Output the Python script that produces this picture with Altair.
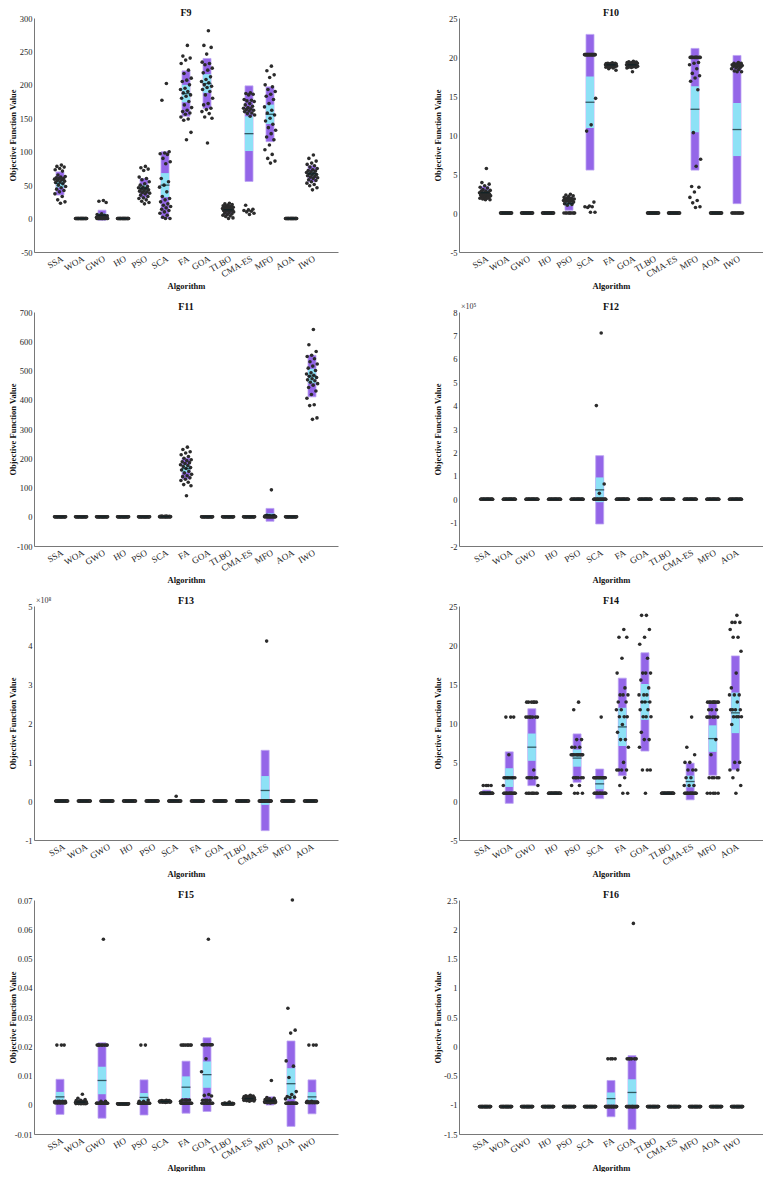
import altair as alt
import pandas as pd

SERIF = "Liberation Serif"
PURPLE = "#9466e8"
PURPLE_EDGE = "#bca5f2"
CYAN = "#8de1f6"
MEAN_C = "#0a1f24"
DOT = "#2b2b2b"

ALGS13 = ["SSA", "WOA", "GWO", "HO", "PSO", "SCA", "FA", "GOA", "TLBO", "CMA-ES", "MFO", "AOA", "IWO"]
ALGS12 = ALGS13[:12]


def rep(v, n):
    return [v] * n


# ---------------- F9 ----------------
F9_MEAN = [52.5, 0, 5, 0, 45.5, 50, 187, 202, 13.3, 127, 156, 0, 67]
F9_SEM = [6.3, 0, 2.7, 0, 5, 18, 13, 14, 2.7, 26, 14.5, 0, 4]
F9_SD = [17.3, 0, 7.5, 0, 14.5, 50, 34, 37.5, 7, 71.5, 41, 0, 12]
F9_POINTS = {
    "SSA": [80, 78, 77, 75, 73, 71, 65, 63, 62, 61, 60, 60, 59, 58, 57, 56, 55, 54, 52, 50, 48, 46, 44, 42, 40, 37, 33, 28, 25, 23],
    "WOA": rep(0, 30),
    "GWO": [27, 26, 24, 7, 6, 5, 5, 4, 4, 3, 3, 2, 2, 1, 1, 1] + rep(0, 14),
    "HO": rep(0, 30),
    "PSO": [78, 76, 74, 72, 62, 60, 58, 55, 52, 50, 48, 47, 46, 45, 44, 43, 42, 41, 40, 39, 38, 37, 35, 33, 31, 30, 28, 26, 24, 22],
    "SCA": [202, 177, 100, 98, 97, 96, 90, 85, 82, 60, 55, 50, 47, 40, 33, 30, 28, 25, 22, 20, 18, 16, 14, 12, 10, 8, 5, 2, 0, 0],
    "FA": [259, 243, 240, 237, 232, 222, 217, 210, 207, 205, 200, 195, 193, 190, 188, 185, 183, 180, 175, 170, 166, 162, 160, 158, 156, 152, 149, 147, 129, 118],
    "GOA": [281, 259, 256, 246, 234, 232, 230, 225, 222, 218, 212, 208, 205, 203, 200, 198, 196, 193, 190, 185, 180, 172, 170, 165, 163, 160, 157, 152, 150, 113],
    "TLBO": [23, 22, 21, 20, 19, 18, 18, 17, 17, 16, 16, 15, 15, 14, 14, 13, 13, 12, 12, 11, 10, 9, 8, 7, 6, 5, 4, 3, 1, 0],
    "CMA-ES": [188, 187, 186, 185, 178, 177, 176, 175, 172, 170, 168, 166, 165, 164, 163, 162, 161, 160, 158, 157, 155, 153, 20, 14, 13, 12, 11, 10, 8, 6],
    "MFO": [228, 221, 215, 211, 200, 197, 193, 190, 186, 183, 178, 172, 167, 162, 158, 155, 150, 146, 141, 136, 132, 127, 122, 118, 110, 103, 96, 90, 86, 83],
    "AOA": rep(0, 30),
    "IWO": [95, 90, 86, 83, 81, 79, 77, 75, 73, 72, 71, 70, 69, 68, 67, 66, 65, 64, 63, 62, 61, 60, 58, 57, 55, 53, 51, 49, 46, 43],
}

# ---------------- F10 ----------------
F10_MEAN = [2.6, 0, 0, 0, 1.2, 14.2, 19.0, 19.0, 0, 0, 13.3, 0, 10.7]
F10_SEM = [0.3, 0, 0, 0, 0.3, 3.3, 0.08, 0.1, 0, 0, 2.95, 0, 3.4]
F10_SD = [0.8, 0, 0, 0, 0.85, 8.7, 0.2, 0.3, 0, 0, 7.8, 0, 9.5]
F10_POINTS = {
    "SSA": [5.7, 3.9, 3.7, 3.5, 3.3, 3.2, 3.0, 2.9, 2.8, 2.8, 2.7, 2.6, 2.6, 2.5, 2.5, 2.4, 2.4, 2.3, 2.3, 2.2, 2.2, 2.1, 2.1, 2.0, 2.0, 1.9, 1.9, 1.8, 1.7, 1.7],
    "WOA": rep(0, 30),
    "GWO": rep(0, 30),
    "HO": rep(0, 30),
    "PSO": [2.4, 2.3, 2.2, 2.1, 2.0, 1.9, 1.9, 1.8, 1.8, 1.7, 1.7, 1.6, 1.6, 1.5, 1.5, 1.4, 1.3, 1.2, 1.1, 1.0] + rep(0, 10),
    "SCA": rep(20.3, 20) + [14.7, 11.3, 10.5, 1.4, 0.9, 0.8, 0.8, 0.7, 0.1, 0.1],
    "FA": [19.25, 19.2, 19.2, 19.15, 19.15, 19.1, 19.1, 19.1, 19.05, 19.05, 19.0, 19.0, 19.0, 19.0, 18.95, 18.95, 18.9, 18.9, 18.9, 18.85, 18.85, 18.8, 18.8, 18.75, 18.7, 18.7, 18.6, 18.5, 18.3, 19.0],
    "GOA": [19.45, 19.4, 19.35, 19.3, 19.3, 19.25, 19.2, 19.2, 19.15, 19.1, 19.1, 19.05, 19.0, 19.0, 19.0, 18.95, 18.9, 18.9, 18.85, 18.8, 18.8, 18.75, 18.7, 18.7, 18.65, 18.6, 18.9, 19.1, 19.2, 18.1],
    "TLBO": rep(0, 30),
    "CMA-ES": rep(0, 30),
    "MFO": rep(19.95, 10) + [19.3, 19.2, 19.0, 18.5, 17.9, 17.6, 17.3, 16.9, 15.8, 10.3, 6.9, 6.0, 3.4, 3.3, 2.7, 2.0, 1.6, 1.3, 0.8, 0.7],
    "AOA": rep(0, 30),
    "IWO": [19.3, 19.2, 19.2, 19.1, 19.0, 19.0, 18.9, 18.9, 18.8, 18.8, 18.7, 18.6, 18.5, 18.4, 18.2, 18.1, 18.1] + rep(0, 13),
}

# ---------------- F11 ----------------
F11_MEAN = [0, 0, 0, 0, 0, 0.4, 165, 0, 0, 0, 6.5, 0, 481]
F11_SEM = [0, 0, 0, 0, 0, 0.2, 13, 0, 0, 0, 5, 0, 25]
F11_SD = [0, 0, 0, 0, 0, 0.7, 36, 0, 0, 0, 22, 0, 71]
F11_POINTS = {
    "SSA": rep(0, 30), "WOA": rep(0, 30), "GWO": rep(0, 30), "HO": rep(0, 30), "PSO": rep(0, 30),
    "SCA": [2.5, 2, 1.8, 1.5, 1.2, 1, 0.8, 0.5, 0.3] + rep(0, 21),
    "FA": [238, 230, 222, 218, 212, 206, 200, 195, 192, 188, 185, 182, 178, 175, 172, 168, 165, 160, 155, 150, 145, 140, 137, 133, 128, 124, 118, 110, 106, 72],
    "GOA": rep(0, 30), "TLBO": rep(0, 30), "CMA-ES": rep(0, 30),
    "MFO": [92, 5, 4, 3, 3, 2, 2, 1, 1, 1] + rep(0, 20),
    "AOA": rep(0, 30),
    "IWO": [640, 588, 565, 552, 548, 540, 530, 522, 515, 508, 500, 492, 488, 484, 480, 476, 472, 468, 465, 460, 455, 450, 442, 430, 418, 405, 383, 380, 338, 333],
}

# ---------------- F12 (x10^5) ----------------
F12_MEAN = [0, 0, 0, 0, 0, 0.40, 0, 0, 0, 0, 0, 0]
F12_SEM = [0, 0, 0, 0, 0, 0.53, 0, 0, 0, 0, 0, 0]
F12_SD = [0, 0, 0, 0, 0, 1.46, 0, 0, 0, 0, 0, 0]
F12_POINTS = {a: rep(0, 30) for a in ALGS12}
F12_POINTS["SCA"] = [7.1, 4.0, 0.65, 0.25] + rep(0, 26)

# ---------------- F13 (x10^8) ----------------
F13_MEAN = [0, 0, 0, 0, 0, 0.004, 0, 0, 0, 0.27, 0, 0]
F13_SEM = [0, 0, 0, 0, 0, 0.008, 0, 0, 0, 0.37, 0, 0]
F13_SD = [0, 0, 0, 0, 0, 0.02, 0, 0, 0, 1.03, 0, 0]
F13_POINTS = {a: rep(0, 30) for a in ALGS12}
F13_POINTS["SCA"] = [0.12] + rep(0, 29)
F13_POINTS["CMA-ES"] = [4.1] + rep(0, 29)

# ---------------- F14 ----------------
F14_MEAN = [1.1, 3.0, 6.9, 0.998, 5.5, 2.2, 9.5, 12.7, 0.998, 2.5, 8.0, 11.3]
F14_SEM = [0.1, 1.2, 1.75, 0, 1.1, 0.7, 2.45, 2.3, 0, 0.75, 1.7, 2.6]
F14_SD = [0.3, 3.3, 4.93, 0, 3.1, 1.9, 6.25, 6.3, 0, 2.35, 4.7, 7.3]
F14_POINTS = {
    "SSA": rep(1.99, 4) + rep(0.998, 26),
    "WOA": rep(10.76, 3) + [5.93] + rep(2.98, 8) + [1.99] + rep(0.998, 17),
    "GWO": rep(12.67, 6) + rep(10.76, 7) + [3.97] + rep(2.98, 6) + [1.99] + rep(0.998, 9),
    "HO": rep(0.998, 30),
    "PSO": [12.67, 11.7, 7.87, 7.87, 6.9, 6.9, 6.9] + rep(5.93, 12) + rep(2.98, 6) + [1.99, 1.99] + rep(0.998, 3),
    "SCA": [10.76] + rep(2.98, 13) + rep(0.998, 16),
    "FA": [21.99, 21.0, 21.0, 18.3, 16.4, 14.5, 13.6, 13.6, 13.6, 12.7, 12.7, 11.7, 11.7, 10.8, 10.8, 10.8, 9.8, 8.8, 7.87, 7.87, 6.9, 4.95, 3.97, 3.97, 3.97, 3.97, 2.98, 1.99, 0.998, 0.998],
    "GOA": [23.8, 23.8, 21.99, 21.0, 20.1, 18.3, 16.4, 16.4, 16.4, 15.5, 14.5, 13.6, 13.6, 13.6, 12.7, 12.7, 12.7, 11.7, 11.7, 10.8, 10.8, 10.8, 8.8, 7.87, 7.87, 6.9, 3.97, 3.97, 3.97, 0.998],
    "TLBO": rep(0.998, 30),
    "CMA-ES": [10.76, 6.9, 5.93, 4.95, 4.95, 3.97, 3.97, 3.97, 2.98, 2.98, 1.99, 1.99, 1.99] + rep(0.998, 17),
    "MFO": rep(12.67, 9) + rep(11.7, 3) + rep(10.76, 6) + [7.87, 5.93] + rep(2.98, 5) + rep(0.998, 5),
    "AOA": [23.8, 22.9, 22.9, 22.9, 21.99, 21.0, 21.0, 19.2, 16.4, 14.5, 13.6, 13.6, 13.6, 12.7, 11.7, 11.7, 11.7, 11.7, 10.8, 10.8, 10.8, 10.8, 9.8, 4.95, 4.95, 3.97, 3.97, 2.98, 1.99, 0.998],
}

# ---------------- F15 ----------------
F15_MEAN = [0.0027, 0.0009, 0.0083, 0.0003, 0.0025, 0.0011, 0.006, 0.0103, 0.0004, 0.0021, 0.0013, 0.0072, 0.0027]
F15_SEM = [0.0017, 0.0003, 0.0047, 0, 0.0015, 0.0001, 0.0037, 0.0045, 0.0001, 0.0002, 0.0005, 0.0053, 0.0016]
F15_SD = [0.006, 0.0007, 0.0129, 0, 0.006, 0.0002, 0.0089, 0.0126, 0.0002, 0.0006, 0.0014, 0.0146, 0.0058]
F15_POINTS = {
    "SSA": rep(0.0204, 3) + rep(0.0012, 5) + rep(0.0009, 6) + rep(0.0007, 16),
    "WOA": [0.0036, 0.0022, 0.0018, 0.0015, 0.0014, 0.0012, 0.0011, 0.001, 0.0009, 0.0009, 0.0008, 0.0008, 0.0008, 0.0007, 0.0007,
            0.0007, 0.0006, 0.0006, 0.0006, 0.0005, 0.0005, 0.0005, 0.0005, 0.0004, 0.0004, 0.0004, 0.0004, 0.0004, 0.0004, 0.0004],
    "GWO": [0.0566] + rep(0.0204, 9) + rep(0.0012, 2) + rep(0.0005, 18),
    "HO": rep(0.0003, 30),
    "PSO": rep(0.0204, 2) + [0.0016, 0.0012, 0.0012] + rep(0.0005, 25),
    "SCA": [0.0015, 0.0014, 0.0014] + rep(0.0013, 4) + rep(0.0012, 6) + rep(0.0011, 6) + rep(0.001, 6) + rep(0.0009, 4) + [0.0008],
    "FA": rep(0.0204, 8) + rep(0.0016, 4) + [0.0012] + rep(0.0005, 17),
    "GOA": [0.0566] + rep(0.0205, 10) + [0.0157, 0.0113, 0.0035, 0.0032, 0.003] + rep(0.0015, 4) + rep(0.0005, 10),
    "TLBO": [0.0009, 0.0006, 0.0005, 0.0005] + rep(0.0004, 6) + rep(0.0003, 20),
    "CMA-ES": [0.0032, 0.0031, 0.003, 0.0029, 0.0028, 0.0027, 0.0026, 0.0025, 0.0024, 0.0024, 0.0023, 0.0022, 0.0022, 0.0021, 0.0021,
               0.002, 0.002, 0.0019, 0.0019, 0.0018, 0.0018, 0.0017, 0.0017, 0.0016, 0.0016, 0.0015, 0.0015, 0.0014, 0.0013, 0.0012],
    "MFO": [0.0083, 0.0025, 0.0022, 0.002, 0.0018, 0.0016, 0.0015, 0.0014, 0.0013, 0.0012, 0.0011, 0.0011] + rep(0.001, 5) + rep(0.0009, 5) + rep(0.0008, 5) + [0.0007, 0.0007, 0.0006],
    "AOA": [0.07, 0.033, 0.0255, 0.0245, 0.015, 0.0132, 0.0093, 0.0045, 0.0035, 0.0028, 0.0026, 0.0025, 0.002] + rep(0.0005, 17),
    "IWO": rep(0.0204, 3) + rep(0.0012, 2) + rep(0.0008, 25),
}

# ---------------- F16 ----------------
F16_MEAN = rep(-1.0316, 6) + [-0.895, -0.79] + rep(-1.0316, 5)
F16_SEM = rep(0, 6) + [0.105, 0.225] + rep(0, 5)
F16_SD = rep(0, 6) + [0.31, 0.63] + rep(0, 5)
F16_POINTS = {a: rep(-1.0316, 30) for a in ALGS13}
F16_POINTS["FA"] = rep(-0.2155, 4) + rep(-1.0316, 26)
F16_POINTS["GOA"] = [2.1] + rep(-0.2155, 6) + rep(-1.0316, 23)

PANEL_W = 304
PANEL_H = 234


def panel(title, algs, means, sems, sds, points, ydom, yticks, exp_label=None):
    n = len(algs)
    stats = pd.DataFrame({"alg": algs, "pos": list(range(1, n + 1)),
                          "mean": means, "sem": sems, "sd": sds})
    stats["sd_lo"] = stats["mean"] - stats["sd"]
    stats["sd_hi"] = stats["mean"] + stats["sd"]
    stats["sem_lo"] = stats["mean"] - stats["sem"]
    stats["sem_hi"] = stats["mean"] + stats["sem"]
    rows = []
    for i, a in enumerate(algs):
        for v in points[a]:
            rows.append({"alg": a, "pos": i + 1, "value": v})
    pts = pd.DataFrame(rows)

    label_expr = "[" + ",".join("'%s'" % a for a in algs) + "][datum.value - 1]"
    xscale = alt.Scale(domain=[0, n + 1], nice=False, zero=False)
    xaxis = alt.Axis(values=list(range(1, n + 1)), labelExpr=label_expr, labelAngle=330,
                     labelOverlap=False, labelBound=False, labelFlush=False, labelFontSize=9,
                     title="Algorithm", minExtent=26, maxExtent=26, titlePadding=3)
    yscale = alt.Scale(domain=ydom, nice=False, zero=False)
    yaxis = alt.Axis(values=yticks, labelExpr="'' + datum.value", title="Objective Function Value",
                     labelOverlap=False, labelFlush=False,
                     minExtent=14, maxExtent=14, titlePadding=3)

    sd_bar = alt.Chart(stats).mark_bar(size=8, color=PURPLE, stroke=PURPLE_EDGE, strokeWidth=0.8).encode(
        x=alt.X("pos:Q", scale=xscale, axis=xaxis),
        y=alt.Y("sd_lo:Q", scale=yscale, axis=yaxis),
        y2="sd_hi:Q",
    )
    sem_bar = alt.Chart(stats).mark_bar(size=8, color=CYAN).encode(
        x=alt.X("pos:Q", scale=xscale, axis=xaxis),
        y=alt.Y("sem_lo:Q", scale=yscale, axis=yaxis),
        y2="sem_hi:Q",
    )
    mean_tick = alt.Chart(stats).mark_tick(orient="horizontal", size=9, thickness=1.3, color=MEAN_C).encode(
        x=alt.X("pos:Q", scale=xscale, axis=xaxis),
        y=alt.Y("mean:Q", scale=yscale, axis=yaxis),
    )
    dots = alt.Chart(pts).transform_window(
        rank="row_number()", groupby=["alg"]
    ).transform_calculate(
        xj="datum.pos + ((datum.rank * 0.618034) % 1 - 0.5) * 0.56"
    ).mark_circle(size=13, color=DOT, opacity=1).encode(
        x=alt.X("xj:Q", scale=xscale, axis=xaxis),
        y=alt.Y("value:Q", scale=yscale, axis=yaxis),
    )
    ttl = alt.Chart(pd.DataFrame({"t": [title]})).mark_text(
        align="center", baseline="middle", font=SERIF, fontSize=10, fontWeight="bold", color="#111"
    ).encode(text="t:N", x=alt.value(PANEL_W / 2), y=alt.value(-5))
    layers = [sd_bar, sem_bar, dots, mean_tick, ttl]
    if exp_label:
        lab = alt.Chart(pd.DataFrame({"t": [exp_label]})).mark_text(
            align="left", baseline="bottom", font=SERIF, fontSize=8, color="#333"
        ).encode(text="t:N", x=alt.value(2), y=alt.value(-1))
        layers.append(lab)
    return alt.layer(*layers).properties(width=PANEL_W, height=PANEL_H)


p9 = panel("F9", ALGS13, F9_MEAN, F9_SEM, F9_SD, F9_POINTS, [-50, 300], [-50, 0, 50, 100, 150, 200, 250, 300])
p10 = panel("F10", ALGS13, F10_MEAN, F10_SEM, F10_SD, F10_POINTS, [-5, 25], [-5, 0, 5, 10, 15, 20, 25])
p11 = panel("F11", ALGS13, F11_MEAN, F11_SEM, F11_SD, F11_POINTS, [-100, 700], [-100, 0, 100, 200, 300, 400, 500, 600, 700])
p12 = panel("F12", ALGS12, F12_MEAN, F12_SEM, F12_SD, F12_POINTS, [-2, 8], [-2, -1, 0, 1, 2, 3, 4, 5, 6, 7, 8], "×10⁵")
p13 = panel("F13", ALGS12, F13_MEAN, F13_SEM, F13_SD, F13_POINTS, [-1, 5], [-1, 0, 1, 2, 3, 4, 5], "×10⁸")
p14 = panel("F14", ALGS12, F14_MEAN, F14_SEM, F14_SD, F14_POINTS, [-5, 25], [-5, 0, 5, 10, 15, 20, 25])
p15 = panel("F15", ALGS13, F15_MEAN, F15_SEM, F15_SD, F15_POINTS, [-0.01, 0.07],
            [-0.01, 0, 0.01, 0.02, 0.03, 0.04, 0.05, 0.06, 0.07])
p16 = panel("F16", ALGS13, F16_MEAN, F16_SEM, F16_SD, F16_POINTS, [-1.5, 2.5],
            [-1.5, -1, -0.5, 0, 0.5, 1, 1.5, 2, 2.5])

rows = [
    alt.hconcat(p9, p10, spacing=95),
    alt.hconcat(p11, p12, spacing=95),
    alt.hconcat(p13, p14, spacing=95),
    alt.hconcat(p15, p16, spacing=95),
]

chart = alt.vconcat(*rows, spacing=12).properties(padding=0).configure_view(
    stroke=None
).configure_axis(
    labelFont=SERIF, titleFont=SERIF, labelFontSize=8.5, titleFontSize=8.5,
    labelColor="#262626", titleColor="#111", titleFontWeight="bold",
    domainColor="#555", domainWidth=0.8, ticks=False, grid=False, labelPadding=2,
)

chart.save("out.html", embed_options={"renderer": "svg", "actions": False})
